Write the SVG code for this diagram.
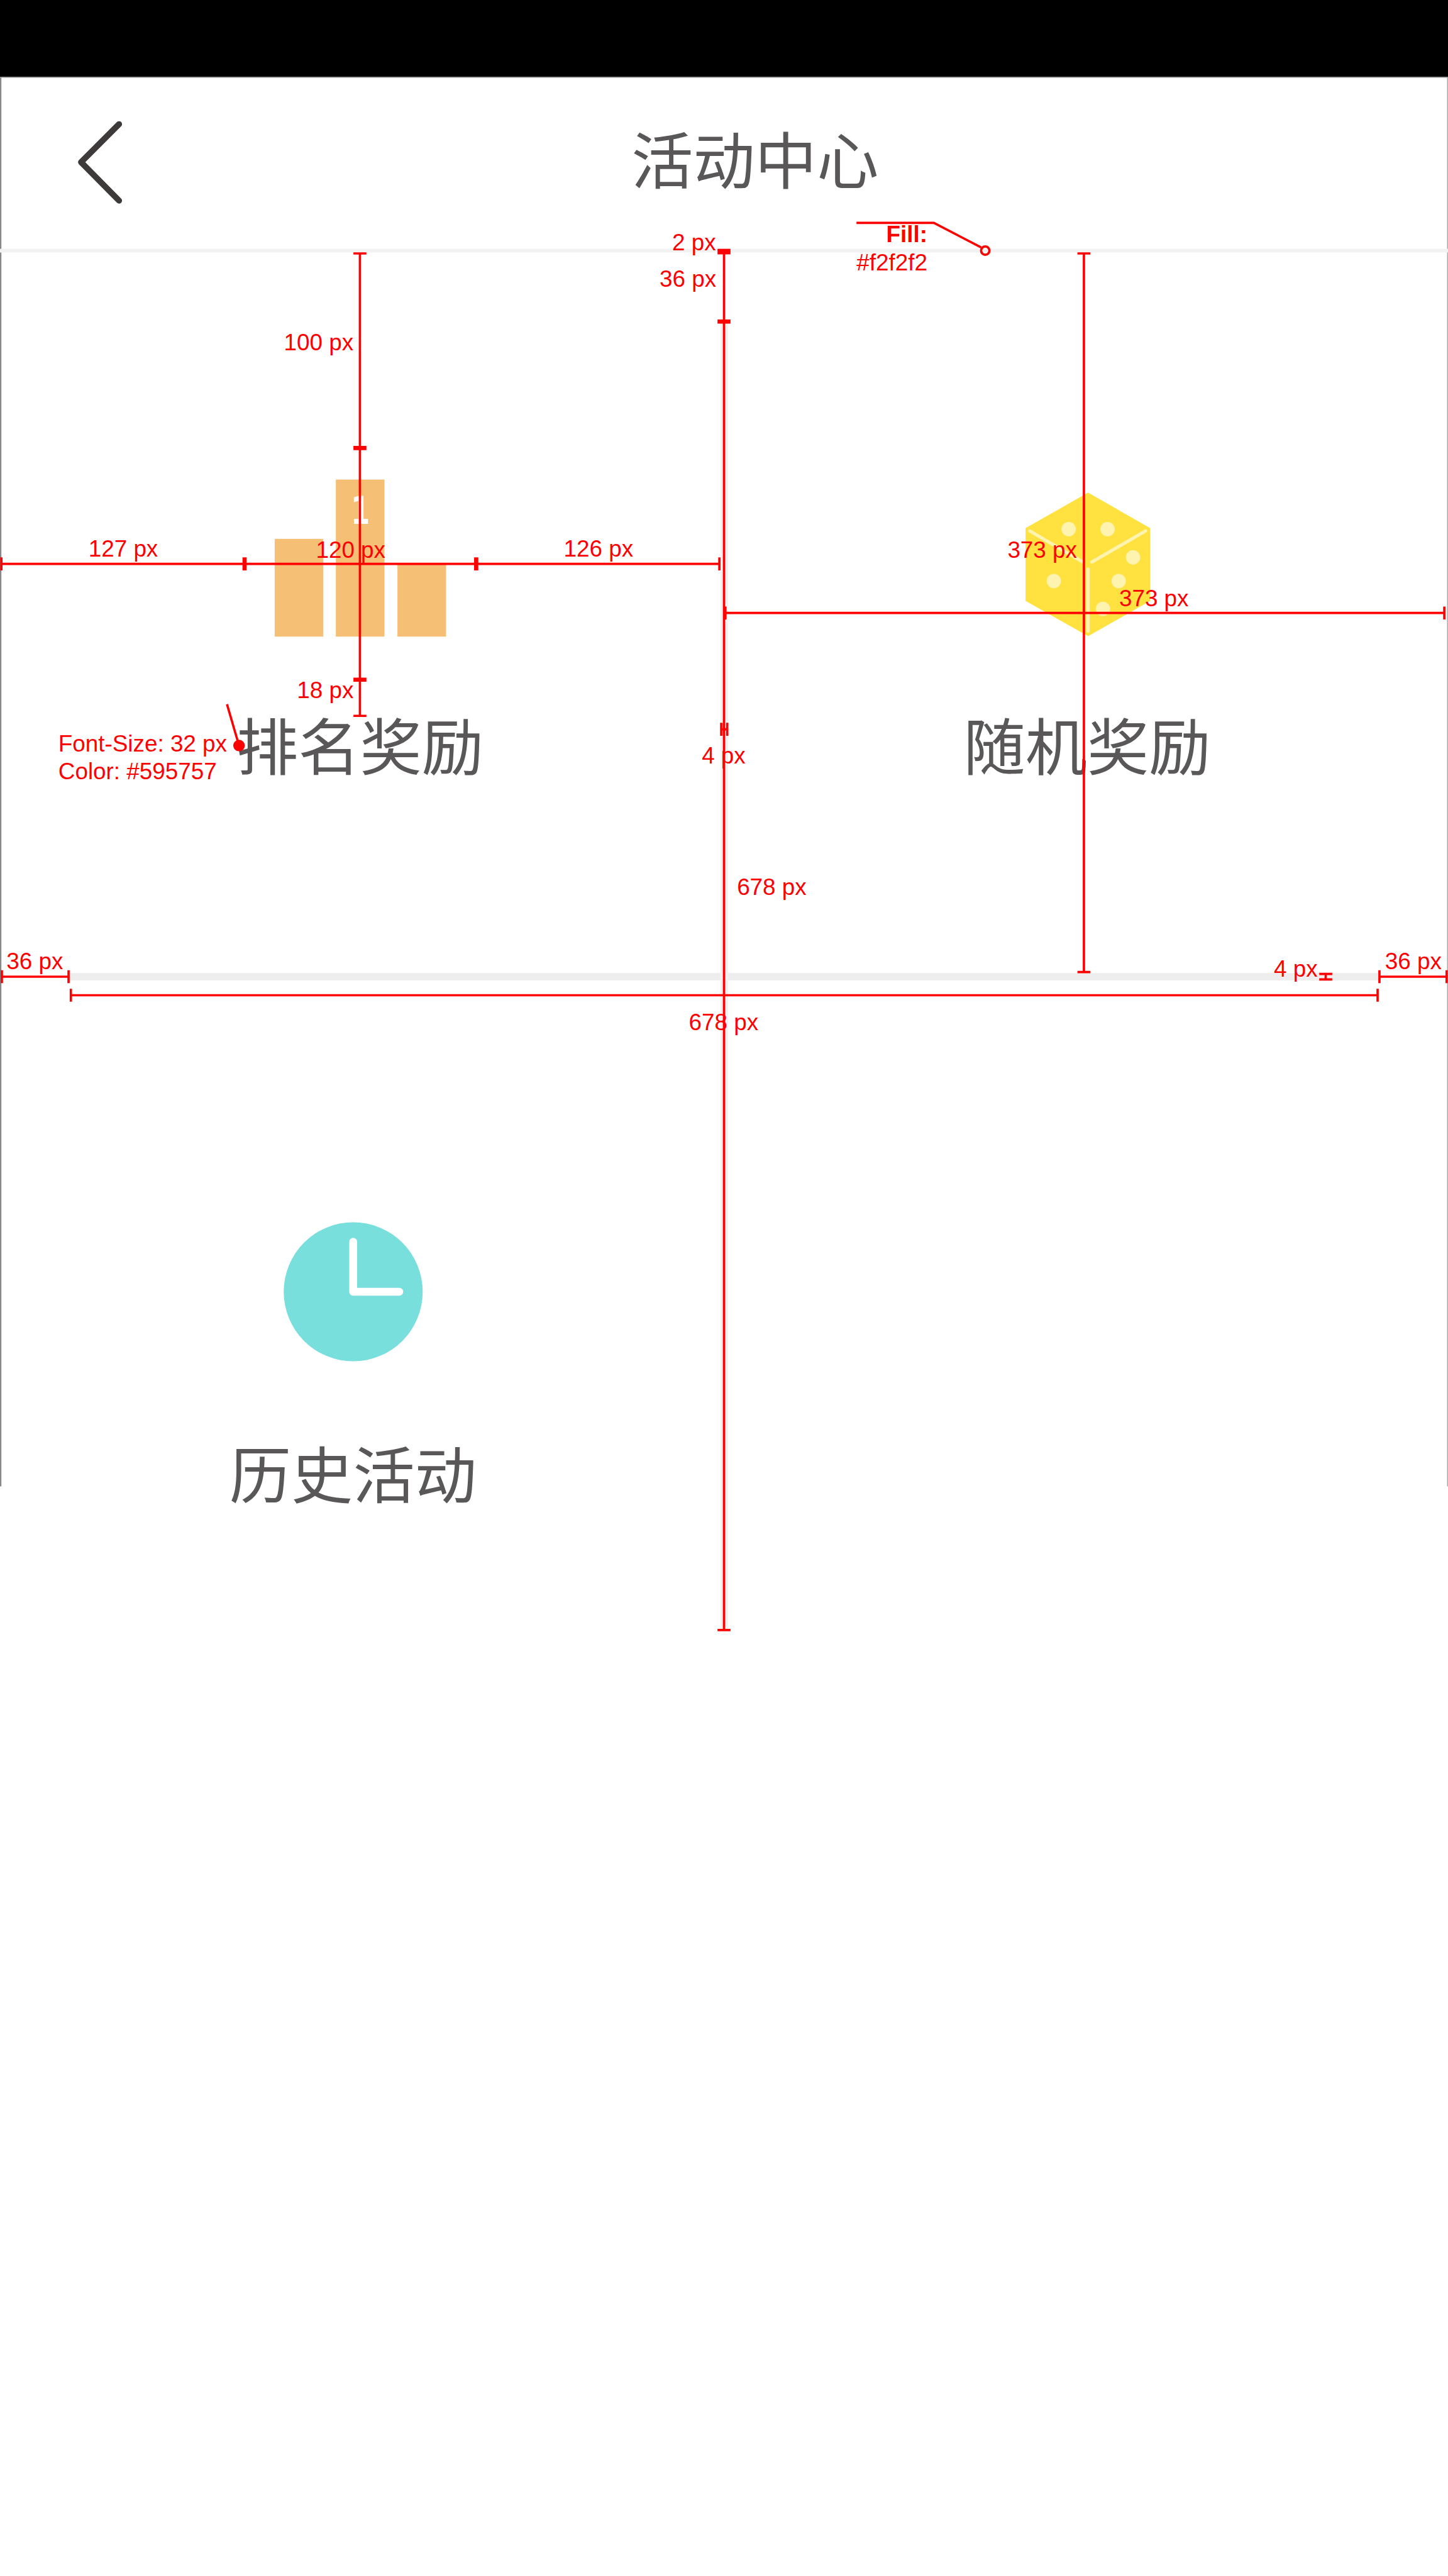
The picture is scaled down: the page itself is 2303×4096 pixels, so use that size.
<svg xmlns="http://www.w3.org/2000/svg" width="2303" height="4096" viewBox="0 0 2303 4096">
<style>
.d{stroke:#f00;stroke-width:5;fill:none}
.t{stroke:#f00;stroke-width:9;fill:none}
.l{font-family:"Liberation Sans",Arial,sans-serif;font-size:50px;fill:#f00}
.c{font-family:"Noto Sans CJK SC","Noto Sans CJK JP",sans-serif;font-size:133.4px;fill:#595757;text-anchor:middle}
.p{fill:#fff3b0}
</style>
<rect width="2303" height="4096" fill="#fff"/>
<g transform="scale(0.73673)">
<g id="screen">
<rect x="0" y="0" width="3" height="3208" fill="#888"/>
<rect x="3124" y="0" width="2" height="3208" fill="#aaa"/>
<rect x="0" y="0" width="3126" height="166" fill="#000"/>
<rect x="0" y="166" width="3126" height="2" fill="#999"/>
<rect x="0" y="537" width="3126" height="8" fill="#f2f2f2"/>
<rect x="149" y="2100" width="2829" height="16" fill="#eeeeee"/>
<rect x="1555" y="694" width="17" height="2826" fill="#f1f1f3"/>
</g>
<g id="back"><path d="M257 268L175 350L257 433" fill="none" stroke="#3e3a39" stroke-width="13" stroke-linecap="round" stroke-linejoin="round"/></g>
<g id="title"><text class="c" x="1630" y="397">活动中心</text></g>
<g id="rank">
<rect x="593" y="1163" width="105" height="211" fill="#f6bf76"/>
<rect x="725" y="1035" width="105" height="339" fill="#f6bf76"/>
<rect x="858" y="1217" width="105" height="157" fill="#f6bf76"/>
<text transform="translate(778 1130) scale(.72 1)" font-family="DejaVu Sans" font-weight="bold" font-size="82" fill="#fff" text-anchor="middle">1</text>
<text class="c" x="777" y="1662">排名奖励</text>
</g>
<g id="random">
<polygon points="2349,1063 2483,1140 2483,1297 2349,1373 2214,1297 2214,1140" fill="#ffe240"/>
<path d="M2223 1146L2338 1213M2357 1213L2473 1146M2349 1228V1362" fill="none" stroke="#fff3b0" stroke-width="7" stroke-linecap="round"/>
<circle class="p" cx="2307" cy="1142" r="15.5"/><circle class="p" cx="2391" cy="1142" r="15.5"/><circle class="p" cx="2275" cy="1254" r="15.5"/><circle class="p" cx="2381" cy="1314" r="15.5"/><circle class="p" cx="2415" cy="1254" r="15.5"/><circle class="p" cx="2446" cy="1203" r="15.5"/>
<text class="c" x="2347" y="1662">随机奖励</text>
</g>
<g id="history">
<circle cx="762.5" cy="2788" r="150" fill="#78dfdc"/>
<path d="M762.5 2680V2788H862" fill="none" stroke="#fff" stroke-width="17" stroke-linecap="round" stroke-linejoin="round"/>
<text class="c" x="762" y="3233">历史活动</text>
</g>
<g id="connectors">
<path class="d" d="M777 547V1545M763 547H791M763 1545H791"/>
<path class="t" d="M763 967H791M763 1467H791"/>
<path class="d" d="M2 1217H1553M3 1203V1231M1553 1203V1231"/>
<path class="t" d="M528 1203V1231M1028 1203V1231"/>
<path class="d" d="M1563 543V3518M1549 3518H1577"/>
<rect x="1549" y="537" width="28" height="12" fill="#f00"/>
<path class="t" d="M1549 694H1577"/>
<path class="d" d="M1557 1560V1588M1570 1560V1588M1557 1574H1570"/>
<path class="d" d="M1566 1323H3118M1566 1309V1337M3118 1309V1337"/>
<path class="d" d="M2340 547V2098M2326 547H2354M2326 2098H2354"/>
<path class="d" d="M4 2108H148M4 2094V2122M148 2094V2122"/>
<path class="d" d="M2978 2108H3123M2978 2094V2122M3123 2094V2122"/>
<path class="d" d="M153 2148H2974M153 2134V2162M2974 2134V2162"/>
<path class="d" d="M2848 2102H2876M2848 2114H2876M2862 2102V2114"/>
<path class="d" d="M1849 481H2016L2118 534"/>
<circle class="d" cx="2127" cy="541" r="9"/>
<path class="d" d="M490 1520L516 1609"/>
<circle cx="516" cy="1609" r="12.5" fill="#f00"/>
</g>
<g id="labels">
<text class="l" x="191" y="1201">127 px</text>
<text class="l" x="682" y="1204">120 px</text>
<text class="l" x="1217" y="1201">126 px</text>
<text class="l" x="613" y="756">100 px</text>
<text class="l" x="1451" y="540">2 px</text>
<text class="l" x="1424" y="619">36 px</text>
<text class="l" x="641" y="1507">18 px</text>
<text class="l" x="126" y="1622">Font-Size: 32 px</text>
<text class="l" x="126" y="1682">Color: #595757</text>
<text class="l" x="2175" y="1204">373 px</text>
<text class="l" x="2416" y="1308">373 px</text>
<text class="l" x="1515" y="1648">4 px</text>
<text class="l" x="1591" y="1932">678 px</text>
<text class="l" x="1487" y="2223">678 px</text>
<text class="l" x="14" y="2092">36 px</text>
<text class="l" x="2990" y="2092">36 px</text>
<text class="l" x="2750" y="2108">4 px</text>
<text class="l" x="2002" y="523" font-weight="bold" text-anchor="end">Fill:</text>
<text class="l" x="2002" y="583" text-anchor="end">#f2f2f2</text>
</g>
</g>
</svg>
